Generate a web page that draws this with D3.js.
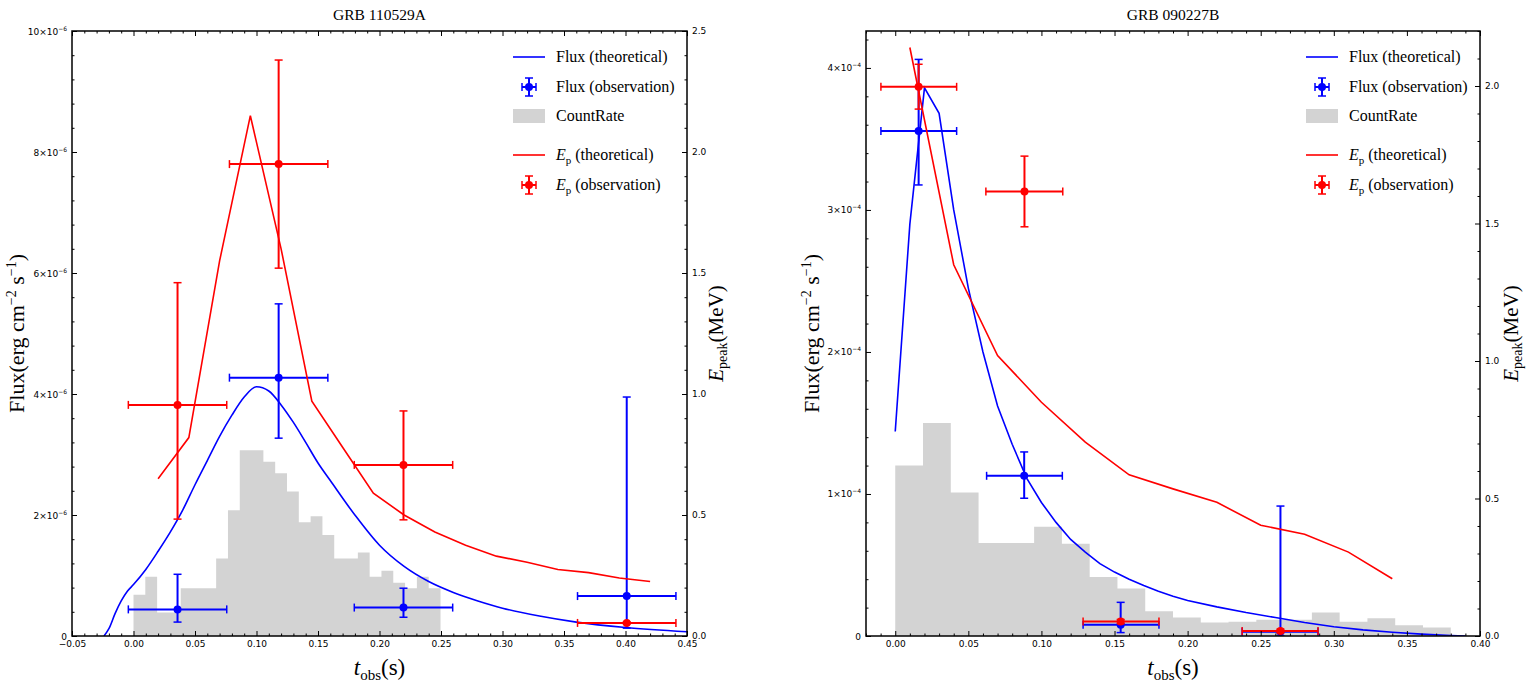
<!DOCTYPE html>
<html><head><meta charset="utf-8">
<script src="https://cdn.jsdelivr.net/npm/d3@7"></script>
<style>body{margin:0;background:#fff}svg{display:block}</style>
</head><body>
<svg id="c" width="1532" height="687"></svg>
<script>
// ================= DATA =================
const titles = ["GRB 110529A", "GRB 090227B"];

// ---- Panel A : GRB 110529A (flux in units of 1e-6) ----
const xTicksA = [-0.05, 0.00, 0.05, 0.10, 0.15, 0.20, 0.25, 0.30, 0.35, 0.40, 0.45];
const yTicksA = [0, 2, 4, 6, 8, 10];
const eTicksA = [0.0, 0.5, 1.0, 1.5, 2.0, 2.5];

const histA_t = [0, 0.0096, 0.0192, 0.0288, 0.0384, 0.048, 0.0576, 0.0672, 0.0768, 0.0864, 0.096, 0.1056, 0.1152,
                 0.1248, 0.1344, 0.144, 0.1536, 0.1632, 0.1728, 0.1824, 0.192, 0.2016, 0.2112, 0.2208, 0.2304, 0.24];
const histA_w = 0.0096;
const histA_v = [0.68, 0.98, 0.39, 0.39, 0.79, 0.79, 0.79, 1.28, 2.08, 3.07, 3.07, 2.88, 2.69,
                 2.39, 1.88, 1.98, 1.67, 1.28, 1.28, 1.38, 0.98, 1.08, 0.88, 0.79, 0.98, 0.79];

const fluxThA_t = [-0.024, -0.02, -0.015, -0.01, -0.005, 0, 0.01, 0.02, 0.03, 0.04, 0.05, 0.06, 0.07, 0.08, 0.09, 0.10,
                   0.11, 0.12, 0.13, 0.14, 0.15, 0.16, 0.18, 0.20, 0.22, 0.24, 0.26, 0.28, 0.30, 0.33, 0.36, 0.40, 0.45];
const fluxThA_v = [0, 0.12, 0.37, 0.58, 0.74, 0.85, 1.1, 1.4, 1.72, 2.08, 2.5, 2.9, 3.3, 3.65, 3.95, 4.12,
                   4.05, 3.82, 3.53, 3.2, 2.86, 2.57, 2.0, 1.5, 1.15, 0.9, 0.72, 0.58, 0.46, 0.33, 0.23, 0.14, 0.07];

const epThA_t = [0.02, 0.045, 0.07, 0.095, 0.12, 0.145, 0.17, 0.195, 0.22, 0.245, 0.27, 0.295, 0.32, 0.345, 0.37, 0.395, 0.42];
const epThA_v = [0.65, 0.82, 1.55, 2.15, 1.6, 0.97, 0.78, 0.59, 0.5, 0.43, 0.375, 0.33, 0.305, 0.275, 0.262, 0.24, 0.225];

const fluxObsA_t  = [0.0358, 0.118, 0.2195, 0.401];
const fluxObsA_tl = [-0.0042, 0.078, 0.1795, 0.361];
const fluxObsA_th = [0.0758, 0.158, 0.2595, 0.441];
const fluxObsA_v  = [0.44, 4.27, 0.47, 0.66];
const fluxObsA_vl = [0.23, 3.27, 0.31, 0.13];
const fluxObsA_vh = [1.02, 5.49, 0.79, 3.95];

const epObsA_t  = [0.0358, 0.118, 0.2195, 0.401];
const epObsA_tl = [-0.0042, 0.078, 0.1795, 0.361];
const epObsA_th = [0.0758, 0.158, 0.2595, 0.441];
const epObsA_v  = [0.955, 1.95, 0.707, 0.054];
const epObsA_vl = [0.483, 1.52, 0.48, 0.05];
const epObsA_vh = [1.46, 2.38, 0.93, 0.058];

// ---- Panel B : GRB 090227B (flux in units of 1e-4) ----
const xTicksB = [0.00, 0.05, 0.10, 0.15, 0.20, 0.25, 0.30, 0.35, 0.40];
const yTicksB = [0, 1, 2, 3, 4];
const eTicksB = [0.0, 0.5, 1.0, 1.5, 2.0];

const histB_t = [0, 0.019, 0.038, 0.057, 0.076, 0.095, 0.114, 0.133, 0.152, 0.171, 0.19, 0.209, 0.228, 0.247,
                 0.266, 0.285, 0.304, 0.323, 0.342, 0.361];
const histB_w = 0.019;
const histB_v = [1.20, 1.50, 1.01, 0.655, 0.655, 0.77, 0.65, 0.415, 0.335, 0.175, 0.13, 0.095, 0.10, 0.115,
                 0.115, 0.165, 0.10, 0.125, 0.075, 0.06];

const fluxThB_t = [0, 0.01, 0.02, 0.03, 0.04, 0.05, 0.06, 0.07, 0.08, 0.09, 0.10, 0.11, 0.12, 0.13, 0.14, 0.15, 0.16,
                   0.17, 0.18, 0.19, 0.20, 0.22, 0.24, 0.26, 0.28, 0.30, 0.32, 0.34, 0.36, 0.38, 0.39];
const fluxThB_v = [1.44, 2.9, 3.86, 3.68, 3.0, 2.45, 2.0, 1.62, 1.35, 1.11, 0.94, 0.80, 0.68, 0.59, 0.51, 0.45, 0.40,
                   0.355, 0.315, 0.28, 0.25, 0.205, 0.165, 0.13, 0.095, 0.065, 0.043, 0.026, 0.013, 0.004, 0.0];

const epThB_t = [0.01, 0.04, 0.07, 0.10, 0.13, 0.16, 0.19, 0.22, 0.25, 0.28, 0.31, 0.34];
const epThB_v = [2.14, 1.35, 1.02, 0.85, 0.705, 0.586, 0.535, 0.486, 0.403, 0.37, 0.305, 0.208];

const fluxObsB_t  = [0.016, 0.0882, 0.1542, 0.2635];
const fluxObsB_tl = [-0.0098, 0.0625, 0.1285, 0.2373];
const fluxObsB_th = [0.042, 0.1143, 0.1804, 0.2892];
const fluxObsB_v  = [3.556, 1.128, 0.079, 0.03];
const fluxObsB_vl = [3.176, 0.97, 0.024, 0.0];
const fluxObsB_vh = [4.06, 1.296, 0.237, 0.915];

const epObsB_t  = [0.016, 0.0884, 0.1542, 0.2635];
const epObsB_tl = [-0.0098, 0.062, 0.1285, 0.2373];
const epObsB_th = [0.042, 0.1146, 0.1804, 0.2892];
const epObsB_v  = [1.997, 1.616, 0.0527, 0.0185];
const epObsB_vl = [1.916, 1.488, 0.045, 0.012];
const epObsB_vh = [2.079, 1.745, 0.060, 0.025];

const legendLabels = ["Flux (theoretical)", "Flux (observation)", "CountRate", "(theoretical)", "(observation)"];

// ================= DRAWING =================
const svg = d3.select("#c");
const BLUE = "#0000ff", RED = "#ff0000", GREY = "#d3d3d3";
const SERIF = "'Liberation Serif', 'DejaVu Serif', serif";
const SANS = "'DejaVu Sans', sans-serif";

const zip = (ts, vs) => ts.map((t, i) => ({t, v: vs[i]}));
const obs = (t, tl, th, v, vl, vh) => t.map((d, i) => ({t: d, tl: tl[i], th: th[i], v: v[i], vl: vl[i], vh: vh[i]}));

const panels = [
  {id: "A", title: titles[0], l: 72, r: 687, t: 31, b: 636,
   xDom: [-0.05, 0.45], xTicks: xTicksA, xMinor: 0.01,
   yDom: [0, 10], yTicks: yTicksA, yMinor: 0.4, yExp: "6",
   eDom: [0, 2.5], eTicks: eTicksA, eMinor: 0.1,
   hist: zip(histA_t, histA_v), histW: histA_w,
   fluxTh: zip(fluxThA_t, fluxThA_v), smooth: true,
   epTh: zip(epThA_t, epThA_v),
   fluxObs: obs(fluxObsA_t, fluxObsA_tl, fluxObsA_th, fluxObsA_v, fluxObsA_vl, fluxObsA_vh),
   epObs: obs(epObsA_t, epObsA_tl, epObsA_th, epObsA_v, epObsA_vl, epObsA_vh),
   ylabX: 17, elabX: 716},
  {id: "B", title: titles[1], l: 866, r: 1480, t: 31, b: 636,
   xDom: [-0.02, 0.40], xTicks: xTicksB, xMinor: 0.01,
   yDom: [0, 4.26], yTicks: yTicksB, yMinor: 0.2, yExp: "4",
   eDom: [0, 2.2], eTicks: eTicksB, eMinor: 0.1,
   hist: zip(histB_t, histB_v), histW: histB_w,
   fluxTh: zip(fluxThB_t, fluxThB_v), smooth: false,
   epTh: zip(epThB_t, epThB_v),
   fluxObs: obs(fluxObsB_t, fluxObsB_tl, fluxObsB_th, fluxObsB_v, fluxObsB_vl, fluxObsB_vh),
   epObs: obs(epObsB_t, epObsB_tl, epObsB_th, epObsB_v, epObsB_vl, epObsB_vh),
   ylabX: 812, elabX: 1511}
];

function minorVals(dom, step, majors) {
  const out = [];
  const start = Math.ceil(dom[0] / step - 1e-6);
  for (let k = start; k * step <= dom[1] + 1e-9; k++) {
    const v = +(k * step).toFixed(6);
    if (!majors.some(m => Math.abs(m - v) < 1e-6)) out.push(v);
  }
  return out;
}

function errorbars(g, data, color, x, y) {
  const cap = 4;
  const eg = g.append("g").attr("stroke", color).attr("stroke-width", 2).attr("fill", "none");
  data.forEach(d => {
    eg.append("line").attr("x1", x(d.tl)).attr("x2", x(d.th)).attr("y1", y(d.v)).attr("y2", y(d.v));
    eg.append("line").attr("x1", x(d.t)).attr("x2", x(d.t)).attr("y1", y(d.vl)).attr("y2", y(d.vh));
    eg.append("line").attr("x1", x(d.tl)).attr("x2", x(d.tl)).attr("y1", y(d.v) - cap).attr("y2", y(d.v) + cap).attr("stroke-width", 1.5);
    eg.append("line").attr("x1", x(d.th)).attr("x2", x(d.th)).attr("y1", y(d.v) - cap).attr("y2", y(d.v) + cap).attr("stroke-width", 1.5);
    eg.append("line").attr("x1", x(d.t) - cap).attr("x2", x(d.t) + cap).attr("y1", y(d.vl)).attr("y2", y(d.vl)).attr("stroke-width", 1.5);
    eg.append("line").attr("x1", x(d.t) - cap).attr("x2", x(d.t) + cap).attr("y1", y(d.vh)).attr("y2", y(d.vh)).attr("stroke-width", 1.5);
  });
  g.append("g").selectAll("circle").data(data).join("circle")
    .attr("cx", d => x(d.t)).attr("cy", d => y(d.v)).attr("r", 4).attr("fill", color);
}

function legendErr(g, cx, cy, color) {
  const s = g.append("g").attr("stroke", color).attr("stroke-width", 2);
  s.append("line").attr("x1", cx - 7).attr("x2", cx + 7).attr("y1", cy).attr("y2", cy);
  s.append("line").attr("x1", cx).attr("x2", cx).attr("y1", cy - 9).attr("y2", cy + 9);
  s.append("line").attr("x1", cx - 7).attr("x2", cx - 7).attr("y1", cy - 4).attr("y2", cy + 4).attr("stroke-width", 1.5);
  s.append("line").attr("x1", cx + 7).attr("x2", cx + 7).attr("y1", cy - 4).attr("y2", cy + 4).attr("stroke-width", 1.5);
  s.append("line").attr("x1", cx - 4).attr("x2", cx + 4).attr("y1", cy - 9).attr("y2", cy - 9).attr("stroke-width", 1.5);
  s.append("line").attr("x1", cx - 4).attr("x2", cx + 4).attr("y1", cy + 9).attr("y2", cy + 9).attr("stroke-width", 1.5);
  g.append("circle").attr("cx", cx).attr("cy", cy).attr("r", 4).attr("fill", color);
}

panels.forEach(P => {
  const x = d3.scaleLinear().domain(P.xDom).range([P.l, P.r]);
  const y = d3.scaleLinear().domain(P.yDom).range([P.b, P.t]);
  const e = d3.scaleLinear().domain(P.eDom).range([P.b, P.t]);

  svg.append("clipPath").attr("id", "clip" + P.id).append("rect")
    .attr("x", P.l).attr("y", P.t).attr("width", P.r - P.l).attr("height", P.b - P.t);
  const plot = svg.append("g").attr("clip-path", `url(#clip${P.id})`);

  // histogram (count rate) as step area
  const last = P.hist[P.hist.length - 1];
  const histPts = P.hist.concat([{t: last.t + P.histW, v: last.v}]);
  plot.append("path").datum(histPts)
    .attr("d", d3.area().x(d => x(d.t)).y0(y(0)).y1(d => y(d.v)).curve(d3.curveStepAfter))
    .attr("fill", GREY);

  // flux theoretical
  plot.append("path").datum(P.fluxTh)
    .attr("d", d3.line().x(d => x(d.t)).y(d => y(d.v)).curve(P.smooth ? d3.curveMonotoneX : d3.curveLinear))
    .attr("fill", "none").attr("stroke", BLUE).attr("stroke-width", 1.6);
  errorbars(plot, P.fluxObs, BLUE, x, y);

  // Ep theoretical
  plot.append("path").datum(P.epTh)
    .attr("d", d3.line().x(d => x(d.t)).y(d => e(d.v)))
    .attr("fill", "none").attr("stroke", RED).attr("stroke-width", 1.6);
  errorbars(plot, P.epObs, RED, x, e);

  // ---- axes ----
  const ax = svg.append("g").attr("font-family", SANS);
  const xMinor = minorVals(P.xDom, P.xMinor, P.xTicks);
  const yMinor = minorVals(P.yDom, P.yMinor, P.yTicks);
  const eMinor = minorVals(P.eDom, P.eMinor, P.eTicks);

  const styleAxis = sel => { sel.select(".domain").remove(); sel.selectAll("line").attr("stroke", "#000").attr("stroke-width", 1); };

  ax.append("g").attr("transform", `translate(0,${P.b})`)
    .call(d3.axisBottom(x).tickValues(P.xTicks).tickSize(-5).tickPadding(5).tickFormat(d3.format(".2f")))
    .call(styleAxis).call(s => s.selectAll("text").attr("font-size", 9).attr("fill", "#000").attr("font-family", SANS));
  ax.append("g").attr("transform", `translate(0,${P.b})`)
    .call(d3.axisBottom(x).tickValues(xMinor).tickSize(-2.5).tickFormat("")).call(styleAxis);
  ax.append("g").attr("transform", `translate(0,${P.t})`)
    .call(d3.axisTop(x).tickValues(P.xTicks).tickSize(-5).tickFormat("")).call(styleAxis);
  ax.append("g").attr("transform", `translate(0,${P.t})`)
    .call(d3.axisTop(x).tickValues(xMinor).tickSize(-2.5).tickFormat("")).call(styleAxis);
  ax.append("g").attr("transform", `translate(${P.l},0)`)
    .call(d3.axisLeft(y).tickValues(P.yTicks).tickSize(-5).tickFormat("")).call(styleAxis);
  ax.append("g").attr("transform", `translate(${P.l},0)`)
    .call(d3.axisLeft(y).tickValues(yMinor).tickSize(-2.5).tickFormat("")).call(styleAxis);
  P.yTicks.forEach(v => {
    const t = ax.append("text").attr("x", P.l - 5).attr("y", y(v) + 3.5)
      .attr("text-anchor", "end").attr("font-size", 9).attr("fill", "#000");
    if (v === 0) { t.text("0"); }
    else {
      t.append("tspan").text(v + "×10");
      t.append("tspan").attr("dy", -4).attr("font-size", 6).text("−" + P.yExp);
    }
  });
  ax.append("g").attr("transform", `translate(${P.r},0)`)
    .call(d3.axisRight(e).tickValues(P.eTicks).tickSize(-5).tickPadding(5).tickFormat(d3.format(".1f")))
    .call(styleAxis).call(s => s.selectAll("text").attr("font-size", 9).attr("fill", "#000").attr("font-family", SANS));
  ax.append("g").attr("transform", `translate(${P.r},0)`)
    .call(d3.axisRight(e).tickValues(eMinor).tickSize(-2.5).tickFormat("")).call(styleAxis);

  svg.append("rect").attr("x", P.l).attr("y", P.t).attr("width", P.r - P.l).attr("height", P.b - P.t)
    .attr("fill", "none").attr("stroke", "#000").attr("stroke-width", 1.5);

  svg.append("text").attr("x", (P.l + P.r) / 2).attr("y", 20).attr("text-anchor", "middle")
    .attr("font-family", SERIF).attr("font-size", 15.5).text(P.title);

  const xl = svg.append("text").attr("x", (P.l + P.r) / 2).attr("y", 675).attr("text-anchor", "middle")
    .attr("font-family", SERIF).attr("font-size", 23);
  xl.append("tspan").attr("font-style", "italic").text("t");
  xl.append("tspan").attr("dy", 5).attr("font-size", 15).text("obs");
  xl.append("tspan").attr("dy", -5).text("(s)");

  const yl = svg.append("text").attr("transform", `translate(${P.ylabX + 7},${(P.t + P.b) / 2}) rotate(-90)`)
    .attr("text-anchor", "middle").attr("font-family", SERIF).attr("font-size", 22);
  yl.append("tspan").text("Flux(erg cm");
  yl.append("tspan").attr("dy", -8).attr("font-size", 14).text("−2");
  yl.append("tspan").attr("dy", 8).text(" s");
  yl.append("tspan").attr("dy", -8).attr("font-size", 14).text("−1");
  yl.append("tspan").attr("dy", 8).text(")");

  const el = svg.append("text").attr("transform", `translate(${P.elabX + 7},${(P.t + P.b) / 2}) rotate(-90)`)
    .attr("text-anchor", "middle").attr("font-family", SERIF).attr("font-size", 21);
  el.append("tspan").attr("font-style", "italic").text("E");
  el.append("tspan").attr("dy", 4).attr("font-size", 14).text("peak");
  el.append("tspan").attr("dy", -4).text("(MeV)");

  const lx = P.r - 174, tx = P.r - 131;
  const lg = svg.append("g").attr("font-family", SERIF).attr("font-size", 16);
  const rows = [57, 87, 116, 155, 185];
  lg.append("line").attr("x1", lx).attr("x2", lx + 32).attr("y1", rows[0]).attr("y2", rows[0]).attr("stroke", BLUE).attr("stroke-width", 1.6);
  legendErr(lg, lx + 16, rows[1], BLUE);
  lg.append("rect").attr("x", lx).attr("y", rows[2] - 7).attr("width", 32).attr("height", 14).attr("fill", GREY);
  lg.append("line").attr("x1", lx).attr("x2", lx + 32).attr("y1", rows[3]).attr("y2", rows[3]).attr("stroke", RED).attr("stroke-width", 1.6);
  legendErr(lg, lx + 16, rows[4], RED);
  [0, 1, 2].forEach(i => lg.append("text").attr("x", tx).attr("y", rows[i] + 5).text(legendLabels[i]));
  [3, 4].forEach(i => {
    const t = lg.append("text").attr("x", tx).attr("y", rows[i] + 5);
    t.append("tspan").attr("font-style", "italic").text("E");
    t.append("tspan").attr("dy", 4).attr("font-size", 11).text("p");
    t.append("tspan").attr("dy", -4).text(" " + legendLabels[i]);
  });
});
</script>
</body></html>
